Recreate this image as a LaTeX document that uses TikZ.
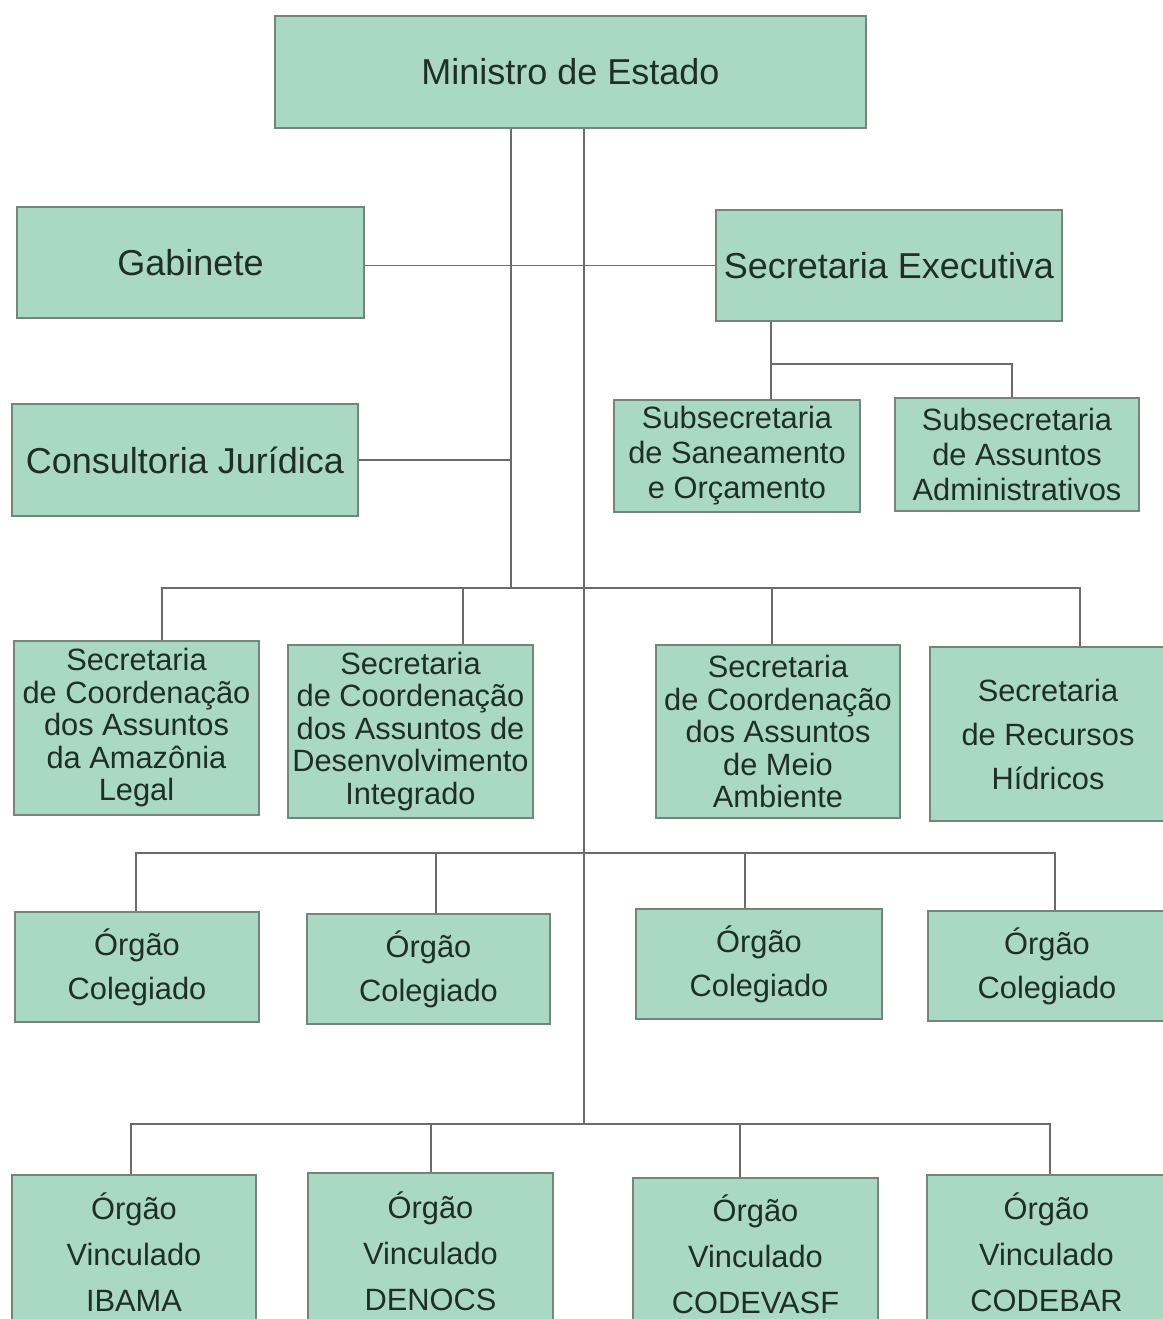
\documentclass[tikz,border=0pt]{standalone}
\usepackage{fontspec}
\setmainfont{Liberation Sans}
\definecolor{boxfill}{HTML}{A9D8C3}
\definecolor{boxline}{HTML}{74857D}
\definecolor{linecol}{HTML}{6B6B6B}
\definecolor{textcol}{HTML}{1F2F27}
\tikzset{
  box/.style={draw=boxline, fill=boxfill, line width=1.2pt, text=textcol, align=center, inner sep=0pt},
  big/.style={font=\fontsize{18}{22}\selectfont},
  small/.style={font=\fontsize{15.4}{#1}\selectfont},
  conn/.style={draw=linecol, line width=0.8pt}
}
\begin{document}
\begin{tikzpicture}[x=0.5pt, y=-0.5pt]
\clip (0,0) rectangle (1163,1319);
\fill[white] (0,0) rectangle (1163,1319);

% top
\node[box, big, minimum width=295.5pt, minimum height=56pt] (min) at (570.5,72) {Ministro de Estado};
\node[box, big, minimum width=173.5pt, minimum height=55.5pt] (gab) at (190.5,262.5) {Gabinete};
\node[box, big, minimum width=173pt, minimum height=55.5pt] (sec) at (889,265.5) {Secretaria Executiva};
\node[box, big, minimum width=173pt, minimum height=56pt] (cons) at (185,460) {Consultoria Jurídica};

% subsecretarias
\node[box, small=17.5pt, minimum width=123pt, minimum height=56pt] (subsan) at (737,456) {Subsecretaria\\de Saneamento\\e Orçamento};
\node[box, small=17.5pt, minimum width=122pt, minimum height=56.5pt] (subadm) at (1017,454.5) {Subsecretaria\\de Assuntos\\Administrativos};

% secretarias
\node[box, small=16.25pt, minimum width=122.5pt, minimum height=87pt] (amaz) at (136.5,728) {Secretaria\\de Coordenação\\dos Assuntos\\da Amazônia\\Legal};
\node[box, small=16.25pt, minimum width=122.5pt, minimum height=86.5pt] (des) at (410.5,731.5) {Secretaria\\de Coordenação\\dos Assuntos de\\Desenvolvimento\\Integrado};
\node[box, small=16.25pt, minimum width=122pt, minimum height=86.5pt] (meio) at (778,731.5) {Secretaria\\de Coordenação\\dos Assuntos\\de Meio\\Ambiente};
\node[box, small=22pt, minimum width=118pt, minimum height=87pt] (rec) at (1048,734) {Secretaria\\de Recursos\\Hídricos};

% orgaos colegiados
\node[box, small=22pt, minimum width=122pt, minimum height=55pt] (col1) at (137,967) {Órgão\\Colegiado};
\node[box, small=22pt, minimum width=121.5pt, minimum height=55pt] (col2) at (428.5,969) {Órgão\\Colegiado};
\node[box, small=22pt, minimum width=123pt, minimum height=55pt] (col3) at (759,964) {Órgão\\Colegiado};
\node[box, small=22pt, minimum width=119pt, minimum height=55pt] (col4) at (1047,966) {Órgão\\Colegiado};

% orgaos vinculados
\node[box, small=23pt, minimum width=122pt, minimum height=77.5pt] (vin1) at (134,1252.5) {Órgão\\Vinculado\\IBAMA};
\node[box, small=23pt, minimum width=122.5pt, minimum height=78.5pt] (vin2) at (430.5,1251.5) {Órgão\\Vinculado\\DENOCS};
\node[box, small=23pt, minimum width=122.5pt, minimum height=76pt] (vin3) at (755.5,1254) {Órgão\\Vinculado\\CODEVASF};
\node[box, small=23pt, minimum width=119.5pt, minimum height=77.5pt] (vin4) at (1046.5,1252.5) {Órgão\\Vinculado\\CODEBAR};

% junctions
\coordinate (jSec) at (511,588);
\coordinate (jSub) at (771,364);
\coordinate (jCol) at (584,853);
\coordinate (jVin) at (584,1124);

% lines
\draw[conn] (min.south -| jSec) -- (jSec);
\draw[conn] (min.south -| jVin) -- (jVin);
\draw[conn] (sec.west) -- (sec.west -| gab.east);
\draw[conn] (cons.east) -- (cons.east -| jSec);
\draw[conn] (sec.south -| jSub) -- (subsan.north -| jSub);
\draw[conn] (jSub) -| (subadm.north -| 1012,0);

\draw[conn] (amaz.north -| 162,0) |- (jSec) -| (rec.north -| 1080,0);
\draw[conn] (col1.north -| 136,0) |- (jCol) -| (col4.north -| 1055,0);
\draw[conn] (vin1.north -| 131,0) |- (jVin) -| (vin4.north -| 1050,0);
\foreach \b/\x in {des/463, meio/772}
  \draw[conn] (\b.north -| \x,0) -- (jSec -| \x,0);
\foreach \b/\x in {col2/436, col3/745}
  \draw[conn] (\b.north -| \x,0) -- (jCol -| \x,0);
\foreach \b/\x in {vin2/431, vin3/740}
  \draw[conn] (\b.north -| \x,0) -- (jVin -| \x,0);

\end{tikzpicture}
\end{document}
